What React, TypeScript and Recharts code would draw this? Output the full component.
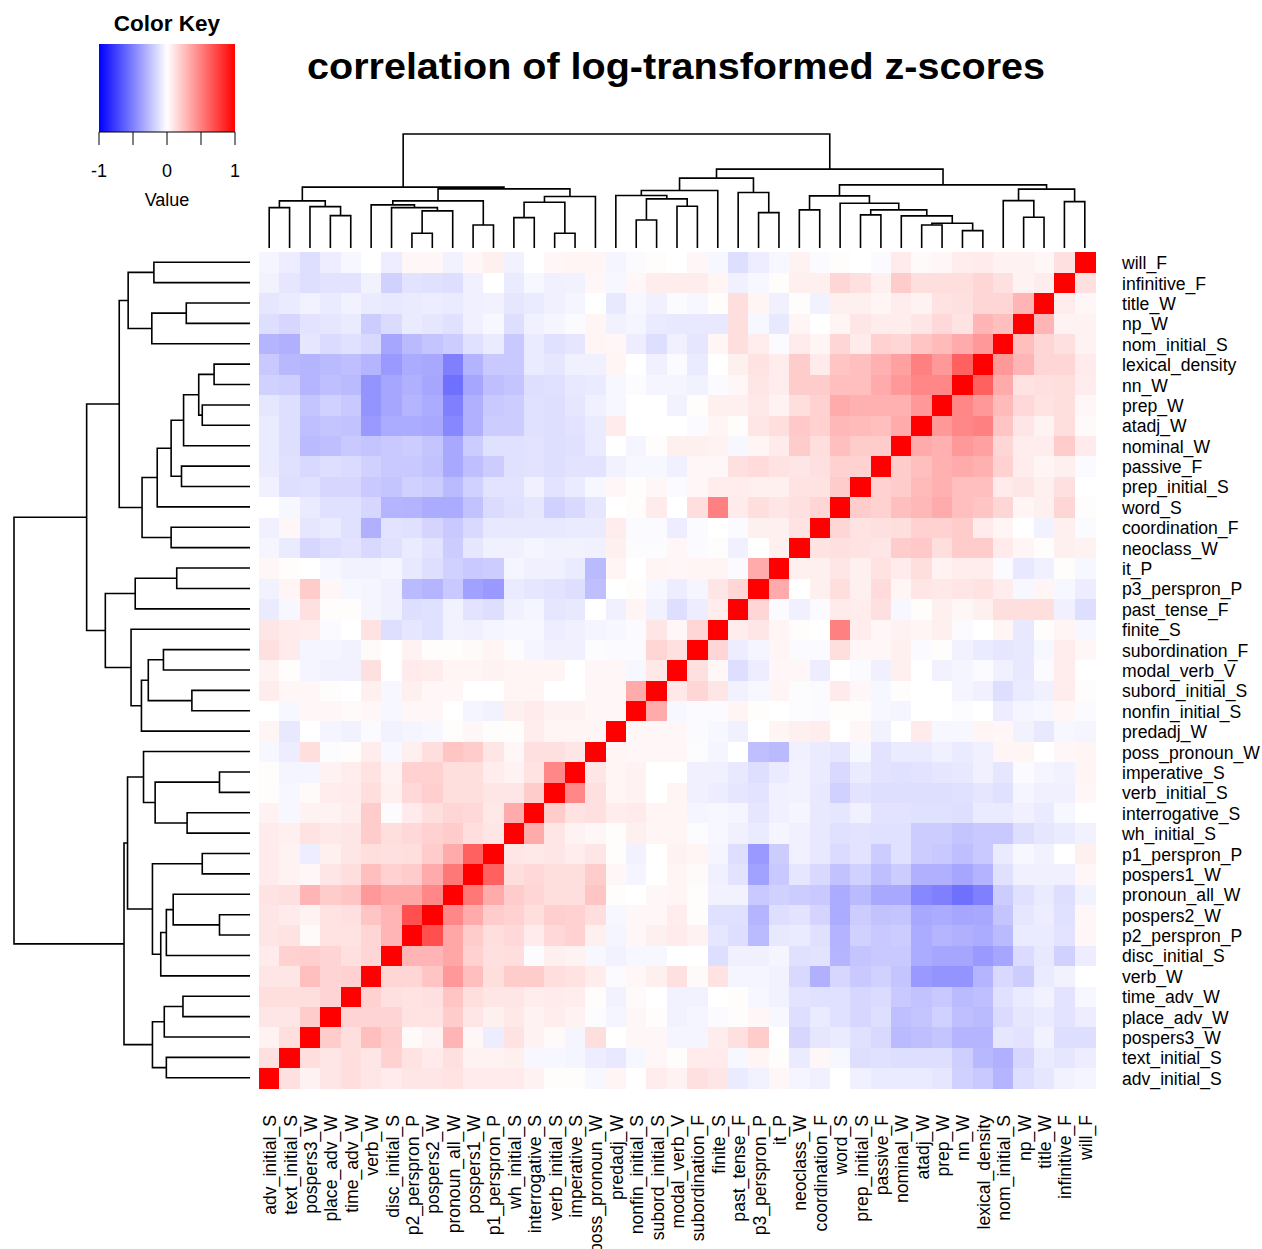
import React from 'react'
import { ScatterChart, Scatter, XAxis, YAxis, ReferenceArea, Label } from 'recharts'

const FONT = '"Liberation Sans", Arial, Helvetica, sans-serif'
const LABEL_SIZE = 17.6

// variables in dendrogram order: left -> right on the bottom axis, bottom -> top on the right axis
const VARS = [
  'adv_initial_S', 'text_initial_S', 'pospers3_W', 'place_adv_W', 'time_adv_W', 'verb_W',
  'disc_initial_S', 'p2_perspron_P', 'pospers2_W', 'pronoun_all_W', 'pospers1_W', 'p1_perspron_P',
  'wh_initial_S', 'interrogative_S', 'verb_initial_S', 'imperative_S', 'poss_pronoun_W', 'predadj_W',
  'nonfin_initial_S', 'subord_initial_S', 'modal_verb_V', 'subordination_F', 'finite_S', 'past_tense_F',
  'p3_perspron_P', 'it_P', 'neoclass_W', 'coordination_F', 'word_S', 'prep_initial_S', 'passive_F',
  'nominal_W', 'atadj_W', 'prep_W', 'nn_W', 'lexical_density', 'nom_initial_S', 'np_W', 'title_W',
  'infinitive_F', 'will_F',
]

// lower triangle of the correlation matrix in hundredths: CORR_LOWER[i][j] = r(VARS[i], VARS[j]), j < i
const CORR_LOWER: number[][] = [
  [],
  [12],
  [5, 13],
  [10, 10, 20],
  [13, 13, 13, 17],
  [10, 10, 25, 17, 18],
  [8, 18, 19, 17, 12, 16],
  [10, 11, 2, 11, 11, 16, 29],
  [10, 8, 5, 11, 12, 23, 29, 69],
  [11, 12, 29, 20, 23, 40, 35, 35, 47],
  [8, 5, 3, 10, 13, 25, 18, 20, 33, 53],
  [8, 5, -7, 6, 10, 13, 12, 13, 20, 33, 62],
  [8, 6, 11, 9, 10, 20, 13, 15, 18, 20, 13, 10],
  [5, -3, 5, 5, 7, 20, -1, 8, 13, 16, 15, 9, 33],
  [1, -3, 2, 7, 8, 13, 6, 15, 19, 13, 13, 10, 10, 20],
  [1, -4, -4, 5, 7, 11, 5, 18, 18, 13, 13, 7, 5, 11, 47],
  [-3, -7, 13, -1, 1, 7, -3, 6, 13, 23, 20, 10, 3, 12, 12, 10],
  [4, -9, 0, -4, -5, -2, -5, -4, -3, 1, 3, 1, 1, 7, 4, 4, 4],
  [0, -3, 3, 3, 2, 3, -3, 3, 3, 0, -4, -5, 6, 8, 5, 5, 3, 3],
  [7, 3, 3, 1, 0, 6, -3, 6, 3, 3, 0, 0, 4, 4, 0, 0, 3, 3, 33],
  [5, 1, -4, -5, -5, 12, 0, 8, 7, 4, 4, 5, 4, 4, 4, 0, 3, 3, -3, 9],
  [12, 8, -4, -4, -5, 2, 0, 5, 1, 1, 2, 4, -1, -4, -6, -6, -1, -2, -2, 16, 12],
  [10, 8, 7, -2, 0, 11, -13, -10, -12, -5, -6, -4, -3, -3, -7, -6, -4, -3, -2, 10, 3, 16],
  [-8, -3, 12, 1, 1, -4, -6, -13, -12, -5, -11, -13, -6, -4, -10, -9, 0, -6, 4, -5, -13, -7, 7],
  [-5, 4, 20, 3, -3, -4, -6, -27, -29, -21, -37, -40, -8, -10, -11, -13, -25, 0, 1, -3, -7, -4, 10, 16],
  [3, 1, 0, -3, -5, -5, -4, -9, -13, -18, -21, -20, -4, -6, -6, -8, -27, 4, 0, 4, 3, 4, 4, -2, 33],
  [-4, -8, -16, -13, -11, -15, -12, -8, -11, -20, -10, -6, -6, -4, -5, -5, -6, 6, -1, -1, 3, -2, 1, -6, 0, 6],
  [-6, 3, -10, -8, -12, -31, -11, -12, -17, -21, -15, -9, -9, -9, -9, -8, -8, 7, -2, -2, -7, -2, 0, -2, 6, 6, 11],
  [0, -3, -8, -12, -12, -16, -29, -30, -33, -33, -24, -14, -12, -10, -18, -15, -10, 0, 1, 8, 0, 13, 50, 8, 13, 10, 12, 16],
  [-6, -13, -12, -16, -16, -21, -23, -18, -20, -27, -18, -11, -11, -6, -11, -8, -3, 3, 1, 3, -2, 3, 7, 7, 6, 6, 11, 11, 20],
  [-8, -12, -15, -13, -14, -18, -21, -21, -24, -34, -25, -20, -12, -11, -13, -11, -11, -5, -3, -3, -6, 3, 3, 12, 14, 11, 10, 12, 18, 18],
  [-8, -13, -27, -25, -21, -23, -21, -20, -23, -34, -20, -12, -12, -11, -13, -12, -8, 0, -4, 1, 6, 6, 5, -3, 4, 8, 20, 13, 25, 20, 20],
  [-8, -13, -25, -23, -24, -40, -33, -33, -34, -47, -31, -20, -20, -12, -13, -11, -8, 8, 0, 0, 0, -2, 4, 1, 10, 13, 21, 18, 28, 27, 25, 33],
  [-10, -13, -23, -18, -21, -42, -35, -29, -33, -50, -31, -21, -20, -12, -13, -10, -6, -3, 0, 0, -5, 1, 6, 6, 9, 5, 13, 18, 33, 31, 31, 31, 40],
  [-18, -19, -29, -25, -27, -42, -35, -31, -35, -56, -35, -25, -23, -13, -12, -9, -8, -3, -1, -4, -4, -5, -2, 3, 10, 7, 20, 20, 25, 25, 33, 40, 47, 47],
  [-21, -28, -29, -27, -25, -29, -40, -33, -34, -50, -30, -21, -21, -8, -10, -6, -6, 4, 0, -6, -2, -8, 0, 6, 11, 7, 20, 8, 23, 25, 31, 37, 50, 40, 62],
  [-29, -31, -10, -14, -12, -15, -35, -27, -23, -20, -12, -8, -21, -8, -12, -10, 4, 3, -7, -13, -6, -10, 4, 13, 7, -2, 8, 4, 16, 8, 18, 16, 23, 27, 33, 40],
  [-13, -16, -11, -10, -8, -20, -14, -8, -10, -12, -6, -3, -13, -6, -4, -2, 4, -5, -4, -8, -9, -9, -9, 13, -3, -9, 4, 0, 4, 10, 7, 7, 10, 15, 11, 29, 25],
  [-10, -8, -5, -8, -5, -8, -9, -8, -7, -8, -6, -5, -10, -8, -6, -4, 0, -9, -3, -6, -2, -3, 1, 13, 4, -6, 1, -5, 6, 6, 4, 7, 5, 11, 12, 16, 16, 29],
  [-5, -10, -13, -11, -11, -5, -18, -11, -12, -13, -6, 0, -8, -3, -6, -5, 3, -3, 3, 7, 7, 7, 4, -6, -3, 1, 6, 6, 16, 12, 6, 20, 13, 13, 13, 16, 12, 5, 7],
  [-4, -7, -13, -7, -3, 0, -7, 3, 3, -5, 3, 6, -5, 0, 3, 4, 4, -4, -2, 1, 0, 3, -3, -13, -7, -3, 5, -2, 1, 0, -2, 8, 2, 3, 7, 8, 5, 5, 3, 12],
]

// hierarchical clustering: [left, right, height]; numbers are leaves, 'mN' is the N-th merge
const MERGES: [number | string, number | string, number][] = [
  [0, 1, 0.403],
  [3, 4, 0.323],
  [2, 'm2', 0.413],
  ['m1', 'm3', 0.47],
  [7, 8, 0.147],
  ['m5', 9, 0.37],
  [6, 'm6', 0.403],
  [5, 'm7', 0.43],
  [10, 11, 0.23],
  ['m8', 'm9', 0.47],
  [12, 13, 0.303],
  [14, 15, 0.147],
  ['m11', 'm12', 0.457],
  ['m13', 16, 0.513],
  ['m10', 'm14', 0.59],
  ['m4', 'm15', 0.607],
  [18, 19, 0.28],
  [20, 21, 0.417],
  ['m17', 'm18', 0.49],
  [17, 'm19', 0.523],
  ['m20', 22, 0.573],
  [24, 25, 0.353],
  [23, 'm22', 0.553],
  ['m21', 'm23', 0.697],
  [26, 27, 0.38],
  [29, 30, 0.33],
  [32, 33, 0.23],
  [34, 35, 0.173],
  ['m27', 'm28', 0.247],
  [31, 'm29', 0.32],
  ['m26', 'm30', 0.38],
  [28, 'm31', 0.447],
  ['m25', 'm32', 0.52],
  [37, 38, 0.307],
  [36, 'm34', 0.473],
  [39, 40, 0.463],
  ['m35', 'm36', 0.587],
  ['m33', 'm37', 0.63],
  ['m24', 'm38', 0.787],
  ['m16', 'm39', 1.137],
]

const KEY_TICKS = [-1, -0.5, 0, 0.5, 1]
const KEY_LABELS = ['-1', '', '0', '', '1']

const N = VARS.length
const HEAT_SIZE = 836
const CELL = HEAT_SIZE / N

const corr = (i: number, j: number) =>
  (i === j ? 100 : i > j ? CORR_LOWER[i][j] : CORR_LOWER[j][i]) / 100

const cells = VARS.flatMap((_, i) => VARS.map((__, j) => ({ x: i + 0.5, y: j + 0.5, v: corr(i, j) })))
const centers = VARS.map((_, i) => i + 0.5)

const heatColor = (v: number) => {
  if (v >= 0) {
    const c = Math.round(255 * (1 - v))
    return `rgb(255,${c},${c})`
  }
  const c = Math.round(255 * (1 + v))
  return `rgb(${c},${c},255)`
}

// dendrogram branches as 4-point polylines (child -> up -> across -> down to child)
const nodes: { x: number; h: number }[] = []
const nodePos = (ref: number | string) =>
  typeof ref === 'number' ? { x: ref + 0.5, h: 0 } : nodes[Number(ref.slice(1)) - 1]
const branches = MERGES.map(([a, b, h]) => {
  const A = nodePos(a)
  const B = nodePos(b)
  nodes.push({ x: (A.x + B.x) / 2, h })
  return [{ x: A.x, h: A.h }, { x: A.x, h }, { x: B.x, h }, { x: B.x, h: B.h }]
})
const ROOT_H = MERGES[MERGES.length - 1][2]

const noDot = () => <g />

const HeatCell = (p: any) => (
  <rect
    x={p.cx - CELL / 2}
    y={p.cy - CELL / 2}
    width={CELL + 0.5}
    height={CELL + 0.5}
    fill={heatColor(p.payload.v)}
    shapeRendering="crispEdges"
  />
)

const ColTick = (p: any) => {
  const y = p.y + 25
  return (
    <text x={p.x} y={y} dy={7} transform={`rotate(-90 ${p.x} ${y})`} textAnchor="end"
      fontSize={LABEL_SIZE} fontFamily={FONT} fill="#000">
      {VARS[Math.floor(p.payload.value)]}
    </text>
  )
}

const RowTick = (p: any) => (
  <text x={p.x + 25} y={p.y} dy={7} textAnchor="start" fontSize={LABEL_SIZE} fontFamily={FONT} fill="#000">
    {VARS[Math.floor(p.payload.value)]}
  </text>
)

const abs: React.CSSProperties = { position: 'absolute', left: 0, top: 0 }

export default function App() {
  return (
    <div style={{ position: 'absolute', left: 0, top: 0, width: 1262, height: 1249, background: '#fff', fontFamily: FONT }}>
      <svg width={0} height={0} style={{ position: 'absolute' }}>
        <defs>
          <linearGradient id="keyGradient" x1="0" x2="1" y1="0" y2="0">
            <stop offset="0%" stopColor="#0000ff" />
            <stop offset="50%" stopColor="#ffffff" />
            <stop offset="100%" stopColor="#ff0000" />
          </linearGradient>
        </defs>
      </svg>

      {/* heatmap with row / column labels */}
      <div style={abs}>
        <ScatterChart width={1262} height={1249} margin={{ top: 252, left: 259, right: 17, bottom: 11 }}>
          <XAxis type="number" dataKey="x" domain={[0, N]} ticks={centers} interval={0} height={150}
            tickSize={0} axisLine={false} tickLine={false} tick={ColTick} />
          <YAxis type="number" dataKey="y" domain={[0, N]} ticks={centers} interval={0} orientation="right"
            width={150} tickSize={0} axisLine={false} tickLine={false} tick={RowTick} />
          <Scatter data={cells} shape={HeatCell} isAnimationActive={false} />
        </ScatterChart>
      </div>

      {/* column dendrogram */}
      <div style={abs}>
        <ScatterChart width={1262} height={252} margin={{ top: 134, left: 259, right: 167, bottom: 4 }}>
          <XAxis type="number" dataKey="x" domain={[0, N]} hide />
          <YAxis type="number" dataKey="h" domain={[0, ROOT_H]} hide />
          {branches.map((b, i) => (
            <Scatter key={i} data={b} fill="#000" line={{ stroke: '#000', strokeWidth: 1.6 }}
              shape={noDot} isAnimationActive={false} />
          ))}
        </ScatterChart>
      </div>

      {/* row dendrogram */}
      <div style={abs}>
        <ScatterChart width={260} height={1249} margin={{ top: 252, left: 14, right: 10, bottom: 161 }}>
          <XAxis type="number" dataKey="h" domain={[0, ROOT_H]} reversed hide />
          <YAxis type="number" dataKey="x" domain={[0, N]} hide />
          {branches.map((b, i) => (
            <Scatter key={i} data={b} fill="#000" line={{ stroke: '#000', strokeWidth: 1.6 }}
              shape={noDot} isAnimationActive={false} />
          ))}
        </ScatterChart>
      </div>

      {/* colour key */}
      <div style={abs}>
        <ScatterChart width={260} height={210} margin={{ top: 44, left: 99, right: 25, bottom: 3 }}>
          <XAxis type="number" dataKey="k" domain={[-1, 1]} ticks={KEY_TICKS} interval={0} height={75}
            tickSize={13} tickMargin={19} tickFormatter={(v: number, i: number) => KEY_LABELS[i]}
            axisLine={{ stroke: '#000' }} tickLine={{ stroke: '#000' }}
            tick={{ fontSize: 18, fill: '#000', fontFamily: FONT }}>
            <Label value="Value" position="insideBottom" offset={1}
              style={{ fontSize: 18, fill: '#000', fontFamily: FONT }} />
          </XAxis>
          <YAxis type="number" dataKey="z" domain={[0, 1]} hide />
          <ReferenceArea x1={-1} x2={1} y1={0} y2={1} fill="url(#keyGradient)" fillOpacity={1} stroke="none" />
          <Scatter data={[{ k: -1, z: 0 }, { k: 1, z: 1 }]} shape={noDot} isAnimationActive={false} />
        </ScatterChart>
      </div>

      <svg width={1262} height={110} style={{ ...abs, pointerEvents: 'none' }}>
        <text x={167} y={31} textAnchor="middle" fontSize={22.5} fontWeight="bold" fontFamily={FONT} fill="#000">
          Color Key
        </text>
        <text x={676} y={78.5} textAnchor="middle" fontSize={37} fontWeight="bold" fontFamily={FONT} fill="#000"
          textLength={738} lengthAdjust="spacingAndGlyphs">
          correlation of log-transformed z-scores
        </text>
      </svg>
    </div>
  )
}
